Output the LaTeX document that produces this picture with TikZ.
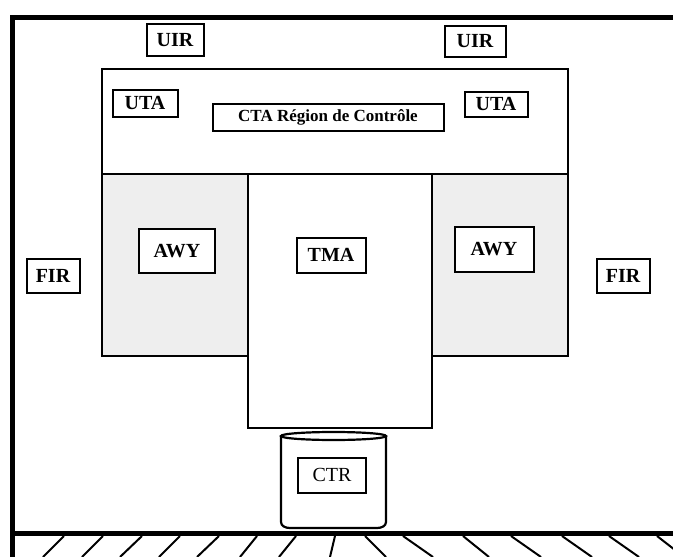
\documentclass[tikz,border=0pt]{standalone}
\usepackage{fontspec}
\setmainfont{Liberation Serif}
\usepackage{tikz}
\definecolor{speckle}{HTML}{EEEEEE}

\tikzset{
  zonebox/.style={draw, line width=2pt, fill=white, inner sep=0pt,
                  font=\fontsize{20}{24}\selectfont\bfseries},
  wall/.style={line width=5pt},
  region/.style={draw, line width=2.2pt},
  hatch/.style={line width=2pt}
}

\begin{document}
\begin{tikzpicture}[x=1pt, y=-1pt]
  \useasboundingbox[fill=white] (0,0) rectangle (673,557);

  % outer frame and ground
  \draw[wall] (12,17) -- (673,17);
  \draw[wall] (12,15) -- (12,557);
  \draw[wall] (10,533) -- (673,533);
  \foreach \a/\b in {64/43, 103/82, 142/120, 180/159, 219/197, 257/240,
                     296/279, 335/330, 365/386, 403/433, 463/489, 511/541,
                     562/592, 609/639, 657/684}
    \draw[hatch] (\a,536) -- (\b,557);

  % airspace regions
  \draw[region] (102,69) rectangle (568,174);
  \draw[region, fill=speckle] (102,174) rectangle (248,356);
  \draw[region, fill=speckle] (432,174) rectangle (568,356);
  \draw[region, fill=white] (248,174) rectangle (432,428);

  % aerodrome
  \draw[region, fill=white] (281,436) -- (281,522)
    to[out=-90, in=180] (290,528) -- (377,528)
    to[out=0, in=-90] (386,522) -- (386,436);
  \draw[region, fill=white] (333.5,436) ellipse (52.5pt and 4pt);

  % labels
  \node[zonebox, minimum width=57pt, minimum height=32pt] (uirL) at (175,40) {UIR};
  \node[zonebox, minimum width=61pt, minimum height=31pt] (uirR) at (475,41) {UIR};
  \node[zonebox, minimum width=65pt, minimum height=27pt] (utaL) at (145,103) {UTA};
  \node[zonebox, minimum width=231pt, minimum height=27pt,
        font=\fontsize{17}{20}\selectfont\bfseries] (cta) at (328,117) {CTA Région de Contrôle};
  \node[zonebox, minimum width=63pt, minimum height=25pt] (utaR) at (496,104) {UTA};
  \node[zonebox, minimum width=76pt, minimum height=44pt] (awyL) at (177,251) {AWY};
  \node[zonebox, minimum width=69pt, minimum height=35pt] (tma) at (331,255) {TMA};
  \node[zonebox, minimum width=79pt, minimum height=45pt] (awyR) at (494,249) {AWY};
  \node[zonebox, minimum width=53pt, minimum height=34pt] (firL) at (53,276) {FIR};
  \node[zonebox, minimum width=53pt, minimum height=34pt] (firR) at (623,276) {FIR};
  \node[zonebox, minimum width=68pt, minimum height=35pt,
        font=\fontsize{20}{24}\selectfont] (ctr) at (332,475) {CTR};
\end{tikzpicture}
\end{document}
